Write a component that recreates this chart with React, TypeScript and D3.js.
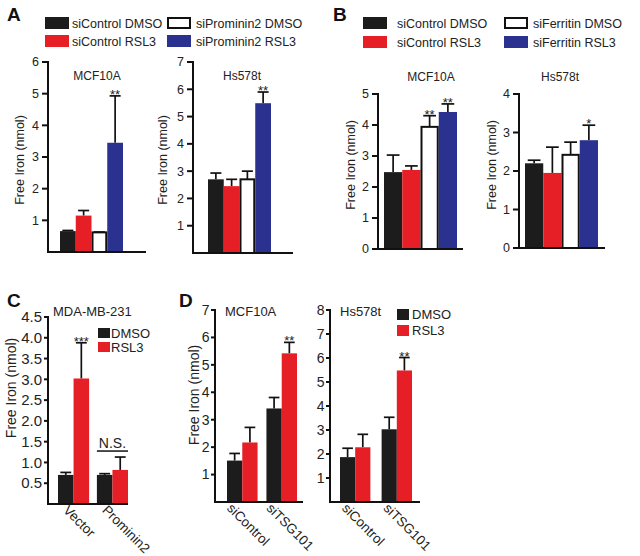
import React from 'react';
import * as d3 from 'd3';

const FONT = '"Liberation Sans", Arial, Helvetica, sans-serif';
const COLOR_MAP: Record<string, string> = { black: '#1c1c1c', red: '#e61e25', white: '#ffffff', blue: '#2b318f' };

// ---------- data ----------
const legendA = ['siControl DMSO', 'siControl RSL3', 'siProminin2 DMSO', 'siProminin2 RSL3'];
const legendB = ['siControl DMSO', 'siControl RSL3', 'siFerritin DMSO', 'siFerritin RSL3'];
const fourSeriesColors = ['black', 'red', 'white', 'blue'];

const aMcfMeans = [0.66, 1.15, 0.62, 3.45];
const aMcfErr = [0.02, 0.16, 0.01, 1.48];
const aMcfStars = ['', '', '', '**'];
const aHsMeans = [2.7, 2.45, 2.7, 5.49];
const aHsErr = [0.23, 0.25, 0.3, 0.41];
const aHsStars = ['', '', '', '**'];

const bMcfMeans = [2.48, 2.55, 3.94, 4.42];
const bMcfErr = [0.55, 0.13, 0.36, 0.26];
const bMcfStars = ['', '', '**', '**'];
const bHsMeans = [2.2, 1.95, 2.42, 2.8];
const bHsErr = [0.08, 0.67, 0.33, 0.39];
const bHsStars = ['', '', '', '*'];

const twoSeries = ['DMSO', 'RSL3'];
const twoSeriesColors = ['black', 'red'];

const cGroups = ['Vector', 'Prominin2'];
const cDmso = [0.7, 0.7];
const cDmsoErr = [0.06, 0.03];
const cRsl3 = [3.02, 0.82];
const cRsl3Err = [0.86, 0.31];
const cStars = [['', '***'], ['', '']];

const dGroups = ['siControl', 'siTSG101'];
const dMcfDmso = [1.51, 3.41];
const dMcfDmsoErr = [0.26, 0.4];
const dMcfRsl3 = [2.17, 5.42];
const dMcfRsl3Err = [0.55, 0.4];
const dHsDmso = [1.87, 3.03];
const dHsDmsoErr = [0.37, 0.5];
const dHsRsl3 = [2.28, 5.48];
const dHsRsl3Err = [0.54, 0.54];
const dStars = [['', ''], ['', '**']];

const aMcfTicks = [1, 2, 3, 4, 5, 6];
const aHsTicks = [1, 2, 3, 4, 5, 6, 7];
const bMcfTicks = [0, 1, 2, 3, 4, 5];
const bHsTicks = [0, 1, 2, 3, 4];
const cTicks = [0.5, 1.0, 1.5, 2.0, 2.5, 3.0, 3.5, 4.0, 4.5];
const dMcfTicks = [1, 2, 3, 4, 5, 6, 7];
const dHsTicks = [1, 2, 3, 4, 5, 6, 7, 8];

const Y_LABEL = 'Free Iron (nmol)';

// ---------- components ----------
type PanelProps = {
  groups: string[];
  means: number[][]; // [group][series]
  errs: number[][];
  stars: string[][];
  colors: string[];
  ymax: number;
  ticks: number[];
  tickFmt: (v: number) => string;
  axisX: number; axisEnd: number; yBase: number; yTop: number;
  barsLeft: number; barsRight: number; groupPad: number;
  tickSize: number; tickLen: number; tickGap: number;
  title: string; titleX: number; titleY: number; titleSize: number; titleAnchor: string;
  yLabel?: { x: number; y: number; size: number };
  catLabels?: { offset: number; size: number; dy: number };
  ns?: boolean;
};

function Panel(p: PanelProps) {
  const y = d3.scaleLinear().domain([0, p.ymax]).range([p.yBase, p.yTop]);
  const gx = d3.scaleBand<string>().domain(p.groups).range([p.barsLeft, p.barsRight]).paddingInner(p.groupPad);
  const nSeries = p.means[0].length;
  const sx = d3.scaleBand<number>().domain(d3.range(nSeries)).range([0, gx.bandwidth()]);
  const capW = sx.bandwidth() * 0.7;
  return (
    <g>
      {p.groups.map((g, gi) =>
        p.means[gi].map((v, si) => {
          const x = (gx(g) as number) + (sx(si) as number);
          const w = sx.bandwidth();
          const cx = x + w / 2;
          const top = y(v);
          const errTop = y(v + p.errs[gi][si]);
          const c = p.colors[si];
          return (
            <g key={g + si}>
              <line x1={cx} x2={cx} y1={top} y2={errTop} stroke="#111" strokeWidth={1.7} />
              <line x1={cx - capW / 2} x2={cx + capW / 2} y1={errTop} y2={errTop} stroke="#111" strokeWidth={1.7} />
              <rect
                x={c === 'white' ? x + 1 : x}
                y={top}
                width={c === 'white' ? w - 2 : w}
                height={p.yBase - top}
                fill={COLOR_MAP[c]}
                stroke={c === 'white' ? '#111' : 'none'}
                strokeWidth={c === 'white' ? 2 : 0}
              />
              {p.stars[gi][si] ? (
                <text x={cx} y={errTop + 3} fontSize={13} textAnchor="middle" fill="#222">
                  {p.stars[gi][si]}
                </text>
              ) : null}
            </g>
          );
        })
      )}
      {/* axes */}
      <line x1={p.axisX} x2={p.axisX} y1={p.yTop - 1} y2={p.yBase + 1} stroke="#111" strokeWidth={2} />
      <line x1={p.axisX - 1} x2={p.axisEnd} y1={p.yBase} y2={p.yBase} stroke="#111" strokeWidth={2} />
      {p.ticks.map((t) => (
        <g key={t}>
          <line x1={p.axisX - p.tickLen} x2={p.axisX} y1={y(t)} y2={y(t)} stroke="#111" strokeWidth={2} />
          <text x={p.axisX - p.tickLen - p.tickGap} y={y(t)} dy="0.35em" fontSize={p.tickSize} textAnchor="end" fill="#222">
            {p.tickFmt(t)}
          </text>
        </g>
      ))}
      <text x={p.titleX} y={p.titleY} fontSize={p.titleSize} textAnchor={p.titleAnchor as any} fill="#222">
        {p.title}
      </text>
      {p.yLabel ? (
        <text
          transform={`translate(${p.yLabel.x},${p.yLabel.y}) rotate(-90)`}
          fontSize={p.yLabel.size}
          textAnchor="middle"
          dy="0.35em"
          fill="#222"
        >
          {Y_LABEL}
        </text>
      ) : null}
      {p.catLabels
        ? p.groups.map((g) => {
            const cx = (gx(g) as number) + gx.bandwidth() / 2 + p.catLabels!.offset;
            return (
              <text
                key={g}
                transform={`translate(${cx},${p.yBase + p.catLabels!.dy}) rotate(45)`}
                fontSize={p.catLabels!.size}
                fill="#222"
              >
                {g}
              </text>
            );
          })
        : null}
      {p.ns
        ? (() => {
            const g = p.groups[1];
            const gi = 1;
            const topVal = d3.max(p.means[gi].map((m, i) => m + p.errs[gi][i])) as number;
            const ly = y(topVal) - 6;
            const x0 = gx(g) as number;
            return (
              <g>
                <line x1={x0} x2={x0 + gx.bandwidth()} y1={ly} y2={ly} stroke="#111" strokeWidth={1.5} />
                <text x={x0 + gx.bandwidth() / 2} y={ly - 3} fontSize={14} textAnchor="middle" fill="#222">
                  N.S.
                </text>
              </g>
            );
          })()
        : null}
    </g>
  );
}

function LegendItem({ x, y, w, h, color, label, gap, size }: any) {
  return (
    <g>
      <rect
        x={color === 'white' ? x + 1 : x}
        y={color === 'white' ? y + 1 : y}
        width={color === 'white' ? w - 2 : w}
        height={color === 'white' ? h - 2 : h}
        fill={COLOR_MAP[color]}
        stroke={color === 'white' ? '#111' : 'none'}
        strokeWidth={2}
      />
      <text x={x + w + gap} y={y + h / 2} dy="0.36em" fontSize={size} fill="#222">
        {label}
      </text>
    </g>
  );
}

const fmtInt = (v: number) => d3.format('d')(v);
const fmt1 = (v: number) => d3.format('.1f')(v);

export default function App() {
  const zip = (a: number[], b: number[]) => a.map((v, i) => [v, b[i]]);
  return (
    <svg
      width={640}
      height={556}
      style={{ position: 'absolute', left: 0, top: 0, background: '#fff', fontFamily: FONT }}
    >
      <rect x={0} y={0} width={640} height={556} fill="#fff" />
      {/* Panel letters */}
      <text x={7} y={21} fontSize={19} fontWeight="bold" fill="#111">A</text>
      <text x={333} y={21} fontSize={19} fontWeight="bold" fill="#111">B</text>
      <text x={7} y={307} fontSize={19} fontWeight="bold" fill="#111">C</text>
      <text x={179} y={307} fontSize={19} fontWeight="bold" fill="#111">D</text>

      {/* Legend A */}
      {legendA.map((l, i) => (
        <LegendItem
          key={l}
          x={i < 2 ? 45 : 167}
          y={i % 2 === 0 ? 17 : 35}
          w={24}
          h={12}
          color={fourSeriesColors[i]}
          label={l}
          gap={i < 2 ? 3 : 5}
          size={12.5}
        />
      ))}
      {/* Legend B */}
      {legendB.map((l, i) => (
        <LegendItem
          key={l}
          x={i < 2 ? 363 : 504}
          y={i % 2 === 0 ? 17 : 36}
          w={24}
          h={12}
          color={fourSeriesColors[i]}
          label={l}
          gap={i < 2 ? 10 : 5}
          size={12.5}
        />
      ))}

      <Panel
        groups={['a']}
        means={[aMcfMeans]}
        errs={[aMcfErr]}
        stars={[aMcfStars]}
        colors={fourSeriesColors}
        ymax={6}
        ticks={aMcfTicks}
        tickFmt={fmtInt}
        axisX={48} axisEnd={146} yBase={252} yTop={62}
        barsLeft={60} barsRight={123} groupPad={0}
        tickSize={12.5} tickLen={6} tickGap={3}
        title="MCF10A" titleX={97} titleY={80} titleSize={12} titleAnchor="middle"
        yLabel={{ x: 20, y: 160, size: 12.5 }}
      />
      <Panel
        groups={['a']}
        means={[aHsMeans]}
        errs={[aHsErr]}
        stars={[aHsStars]}
        colors={fourSeriesColors}
        ymax={7}
        ticks={aHsTicks}
        tickFmt={fmtInt}
        axisX={193} axisEnd={293} yBase={253} yTop={62}
        barsLeft={208} barsRight={271} groupPad={0}
        tickSize={12.5} tickLen={6} tickGap={3}
        title="Hs578t" titleX={242} titleY={80} titleSize={12} titleAnchor="middle"
        yLabel={{ x: 163, y: 160, size: 12.5 }}
      />
      <Panel
        groups={['b']}
        means={[bMcfMeans]}
        errs={[bMcfErr]}
        stars={[bMcfStars]}
        colors={fourSeriesColors}
        ymax={5}
        ticks={bMcfTicks}
        tickFmt={fmtInt}
        axisX={378} axisEnd={463} yBase={249} yTop={94}
        barsLeft={384} barsRight={457} groupPad={0}
        tickSize={12.5} tickLen={6} tickGap={3}
        title="MCF10A" titleX={431} titleY={81} titleSize={12} titleAnchor="middle"
        yLabel={{ x: 351, y: 165, size: 12.5 }}
      />
      <Panel
        groups={['b']}
        means={[bHsMeans]}
        errs={[bHsErr]}
        stars={[bHsStars]}
        colors={fourSeriesColors}
        ymax={4}
        ticks={bHsTicks}
        tickFmt={fmtInt}
        axisX={519} axisEnd={605} yBase={248} yTop={94}
        barsLeft={525} barsRight={598} groupPad={0}
        tickSize={12.5} tickLen={6} tickGap={3}
        title="Hs578t" titleX={560} titleY={81} titleSize={12} titleAnchor="middle"
        yLabel={{ x: 492, y: 165, size: 12.5 }}
      />

      {/* Panel C */}
      <Panel
        groups={cGroups}
        means={zip(cDmso, cRsl3)}
        errs={zip(cDmsoErr, cRsl3Err)}
        stars={cStars}
        colors={twoSeriesColors}
        ymax={4.5}
        ticks={cTicks}
        tickFmt={fmt1}
        axisX={48} axisEnd={128} yBase={504} yTop={317}
        barsLeft={58} barsRight={128} groupPad={0.2}
        tickSize={15} tickLen={4} tickGap={2}
        title="MDA-MB-231" titleX={53} titleY={316} titleSize={13} titleAnchor="start"
        yLabel={{ x: 11, y: 388, size: 14 }}
        catLabels={{ offset: -11, size: 13.5, dy: 7 }}
        ns
      />
      {twoSeries.map((l, i) => (
        <LegendItem key={l} x={98} y={i === 0 ? 328 : 342} w={12} h={10} color={twoSeriesColors[i]} label={l} gap={1} size={13} />
      ))}

      {/* Panel D */}
      <Panel
        groups={dGroups}
        means={zip(dMcfDmso, dMcfRsl3)}
        errs={zip(dMcfDmsoErr, dMcfRsl3Err)}
        stars={dStars}
        colors={twoSeriesColors}
        ymax={7}
        ticks={dMcfTicks}
        tickFmt={fmtInt}
        axisX={215} axisEnd={303} yBase={502} yTop={310}
        barsLeft={227} barsRight={297} groupPad={0.225}
        tickSize={14} tickLen={4} tickGap={1.5}
        title="MCF10A" titleX={225} titleY={316} titleSize={13} titleAnchor="start"
        yLabel={{ x: 194, y: 395, size: 14 }}
        catLabels={{ offset: -16, size: 13.5, dy: 7 }}
      />
      <Panel
        groups={dGroups}
        means={zip(dHsDmso, dHsRsl3)}
        errs={zip(dHsDmsoErr, dHsRsl3Err)}
        stars={dStars}
        colors={twoSeriesColors}
        ymax={8}
        ticks={dHsTicks}
        tickFmt={fmtInt}
        axisX={330} axisEnd={420} yBase={502} yTop={310}
        barsLeft={340} barsRight={412} groupPad={0.27}
        tickSize={14} tickLen={4} tickGap={1.5}
        title="Hs578t" titleX={340} titleY={316} titleSize={13} titleAnchor="start"
        catLabels={{ offset: -14, size: 13.5, dy: 7 }}
      />
      {twoSeries.map((l, i) => (
        <LegendItem key={l} x={397} y={i === 0 ? 309 : 325} w={12} h={11} color={twoSeriesColors[i]} label={l} gap={3} size={13} />
      ))}
    </svg>
  );
}
